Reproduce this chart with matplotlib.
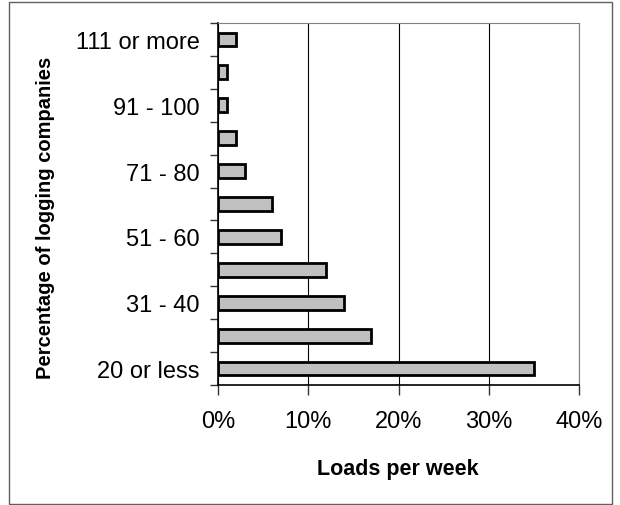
"""Horizontal bar chart: percentage of logging companies by loads per week."""

import matplotlib.pyplot as plt
import numpy as np
from matplotlib.patches import Rectangle
from matplotlib.ticker import FixedLocator, PercentFormatter

plt.rcParams["font.family"] = ["Liberation Sans", "DejaVu Sans"]

categories = ["20 or less", "21 - 30", "31 - 40", "41 - 50", "51 - 60", "61 - 70",
              "71 - 80", "81 - 90", "91 - 100", "101 - 110", "111 or more"]
shares = [35, 17, 14, 12, 7, 6, 3, 2, 1, 1, 2]
x_ticks = [0, 10, 20, 30, 40]

W, H = 620, 506
fig = plt.figure(figsize=(W / 100, H / 100), dpi=100)
ax = fig.add_axes([218 / W, 1 - 386 / H, 361 / W, 362 / H])

y = np.arange(len(categories))
ax.barh(y, shares, height=0.42, color="#c0c0c0", edgecolor="black", linewidth=2, zorder=3)

ax.set_xlim(0, 40)
ax.set_ylim(-0.5, len(categories) - 0.5)

ax.set_xticks(x_ticks)
ax.xaxis.set_major_formatter(PercentFormatter(decimals=0))
ax.grid(axis="x", color="black", linewidth=0.8, zorder=0)

# labels on every other category, tick marks at category boundaries
ax.set_yticks(y[::2])
ax.set_yticklabels(categories[::2])
ax.yaxis.set_minor_locator(FixedLocator(np.arange(-0.5, len(categories), 1)))
ax.tick_params(axis="y", which="major", length=0, pad=13, labelsize=17)
ax.tick_params(axis="y", which="minor", length=6, width=1, direction="out", color="#333333")
ax.tick_params(axis="x", length=7, width=1, direction="out", labelsize=17, pad=11,
               color="#333333")

for side in ("top", "right"):
    ax.spines[side].set_color("#808080")
ax.spines["left"].set_linewidth(1.2)
ax.spines["bottom"].set_linewidth(1.2)

fig.text(398 / W, 1 - 470 / H, "Loads per week", fontsize=15.5, fontweight="bold",
         ha="center", va="center")
fig.text(46 / W, 1 - 218 / H, "Percentage of logging companies", fontsize=14.5,
         fontweight="bold", rotation=90, ha="center", va="center")

fig.patches.append(Rectangle((9 / W, 1.5 / H), 603 / W, 501.5 / H,
                             transform=fig.transFigure, fill=False,
                             edgecolor="#606060", linewidth=1))

fig.savefig("out.png", dpi=100)
